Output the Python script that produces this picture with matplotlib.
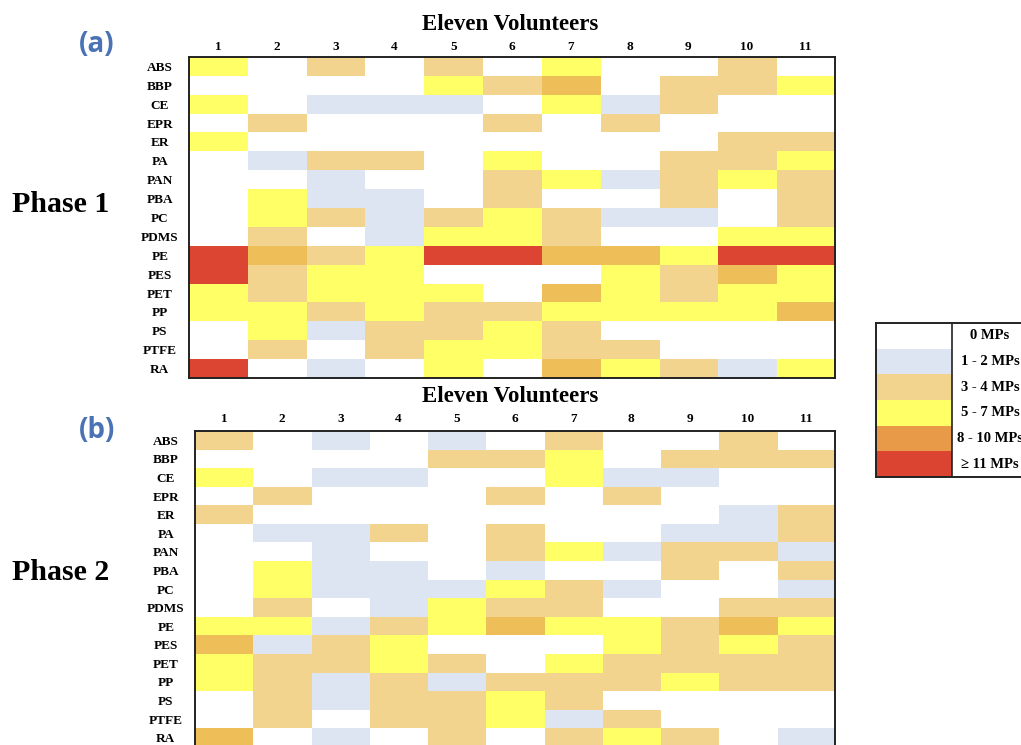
import matplotlib
matplotlib.use("Agg")
import matplotlib.pyplot as plt
from matplotlib.colors import ListedColormap
import numpy as np

# polimeri (righe) e volontari (colonne)
polimeri = ['ABS', 'BBP', 'CE', 'EPR', 'ER', 'PA', 'PAN', 'PBA', 'PC', 'PDMS',
            'PE', 'PES', 'PET', 'PP', 'PS', 'PTFE', 'RA']
volontari = ['1', '2', '3', '4', '5', '6', '7', '8', '9', '10', '11']

# classi: 0 = 0 MPs, 1 = 1-2, 2 = 3-4, 3 = 5-7, 4 = 8-10, 5 = >=11
fase1 = [
    [3, 0, 2, 0, 2, 0, 3, 0, 0, 2, 0],
    [0, 0, 0, 0, 3, 2, 4, 0, 2, 2, 3],
    [3, 0, 1, 1, 1, 0, 3, 1, 2, 0, 0],
    [0, 2, 0, 0, 0, 2, 0, 2, 0, 0, 0],
    [3, 0, 0, 0, 0, 0, 0, 0, 0, 2, 2],
    [0, 1, 2, 2, 0, 3, 0, 0, 2, 2, 3],
    [0, 0, 1, 0, 0, 2, 3, 1, 2, 3, 2],
    [0, 3, 1, 1, 0, 2, 0, 0, 2, 0, 2],
    [0, 3, 2, 1, 2, 3, 2, 1, 1, 0, 2],
    [0, 2, 0, 1, 3, 3, 2, 0, 0, 3, 3],
    [5, 4, 2, 3, 5, 5, 4, 4, 3, 5, 5],
    [5, 2, 3, 3, 0, 0, 0, 3, 2, 4, 3],
    [3, 2, 3, 3, 3, 0, 4, 3, 2, 3, 3],
    [3, 3, 2, 3, 2, 2, 3, 3, 3, 3, 4],
    [0, 3, 1, 2, 2, 3, 2, 0, 0, 0, 0],
    [0, 2, 0, 2, 3, 3, 2, 2, 0, 0, 0],
    [5, 0, 1, 0, 3, 0, 4, 3, 2, 1, 3],
]

fase2 = [
    [2, 0, 1, 0, 1, 0, 2, 0, 0, 2, 0],
    [0, 0, 0, 0, 2, 2, 3, 0, 2, 2, 2],
    [3, 0, 1, 1, 0, 0, 3, 1, 1, 0, 0],
    [0, 2, 0, 0, 0, 2, 0, 2, 0, 0, 0],
    [2, 0, 0, 0, 0, 0, 0, 0, 0, 1, 2],
    [0, 1, 1, 2, 0, 2, 0, 0, 1, 1, 2],
    [0, 0, 1, 0, 0, 2, 3, 1, 2, 2, 1],
    [0, 3, 1, 1, 0, 1, 0, 0, 2, 0, 2],
    [0, 3, 1, 1, 1, 3, 2, 1, 0, 0, 1],
    [0, 2, 0, 1, 3, 2, 2, 0, 0, 2, 2],
    [3, 3, 1, 2, 3, 4, 3, 3, 2, 4, 3],
    [4, 1, 2, 3, 0, 0, 0, 3, 2, 3, 2],
    [3, 2, 2, 3, 2, 0, 3, 2, 2, 2, 2],
    [3, 2, 1, 2, 1, 2, 2, 2, 3, 2, 2],
    [0, 2, 1, 2, 2, 3, 2, 0, 0, 0, 0],
    [0, 2, 0, 2, 2, 3, 1, 2, 0, 0, 0],
    [4, 0, 1, 0, 2, 0, 2, 3, 2, 0, 1],
]

classi = ['0 MPs', '1 - 2 MPs', '3 - 4 MPs', '5 - 7 MPs', '8 - 10 MPs', '\u2265 11 MPs']

colori_celle = ['#ffffff', '#dde5f3', '#f2d48f', '#ffff66', '#eebf58', '#dc4532']
colori_legenda = ['#ffffff', '#dde5f3', '#f2d48f', '#ffff66', '#e89a48', '#db4431']

serif = 'Liberation Serif'
blu = '#4a72b5'

fig = plt.figure(figsize=(10.21, 7.45), dpi=100)
cmap_celle = ListedColormap(colori_celle)


def heatmap(rect, dati, pad_col):
    ax = fig.add_axes(rect)
    ax.imshow(np.array(dati), cmap=cmap_celle, vmin=-0.5, vmax=5.5,
              aspect='auto', interpolation='nearest')
    ax.xaxis.tick_top()
    ax.set_xticks(np.arange(len(volontari)))
    ax.set_xticklabels(volontari, fontfamily=serif, fontweight='bold', fontsize=9.5)
    ax.set_yticks(np.arange(len(polimeri)))
    ax.set_yticklabels(polimeri, fontfamily=serif, fontweight='bold', fontsize=9.5)
    for lab in ax.get_yticklabels():
        lab.set_horizontalalignment('center')
    ax.tick_params(axis='x', length=0, pad=pad_col)
    ax.tick_params(axis='y', length=0, pad=21)
    for s in ax.spines.values():
        s.set_linewidth(1.4)
        s.set_color('#222222')
    return ax


# Fase 1
ax1 = heatmap([189 / 1021, 1 - 378 / 745, 646 / 1021, 321 / 745], fase1, 3)
# Fase 2 (tagliata in basso come nell'originale)
ax2 = heatmap([195 / 1021, 1 - 747 / 745, 640 / 1021, 316 / 745], fase2, 4)

fig.text(510 / 1021, 1 - 24 / 745, 'Eleven Volunteers', ha='center', va='center',
         fontfamily=serif, fontweight='bold', fontsize=16.5)
fig.text(510 / 1021, 1 - 396 / 745, 'Eleven Volunteers', ha='center', va='center',
         fontfamily=serif, fontweight='bold', fontsize=16.5)

fig.text(97 / 1021, 1 - 44 / 745, '(a)', ha='center', va='center', color=blu,
         fontfamily='Open Sans', fontweight='bold', fontsize=20)
fig.text(97 / 1021, 1 - 430 / 745, '(b)', ha='center', va='center', color=blu,
         fontfamily='Open Sans', fontweight='bold', fontsize=20)

fig.text(61 / 1021, 1 - 205 / 745, 'Phase 1', ha='center', va='center',
         fontfamily=serif, fontweight='bold', fontsize=21.5)
fig.text(61 / 1021, 1 - 572 / 745, 'Phase 2', ha='center', va='center',
         fontfamily=serif, fontweight='bold', fontsize=21.5)

# Legenda
axl = fig.add_axes([876 / 1021, 1 - 477 / 745, 159 / 1021, 154 / 745])
axl.imshow(np.arange(len(classi)).reshape(-1, 1), cmap=ListedColormap(colori_legenda),
           vmin=-0.5, vmax=5.5, aspect='auto', interpolation='nearest',
           extent=(0, 1, len(classi), 0))
axl.set_xlim(0, 159 / 76)
axl.set_ylim(len(classi), 0)
axl.axvline(1, color='#222222', lw=1.2)
for i, c in enumerate(classi):
    axl.text(1.5, i + 0.5, c, ha='center', va='center', fontfamily=serif,
             fontweight='bold', fontsize=10.5)
axl.set_xticks([])
axl.set_yticks([])
for s in axl.spines.values():
    s.set_linewidth(1.4)
    s.set_color('#222222')

fig.savefig('out.png', dpi=100)
